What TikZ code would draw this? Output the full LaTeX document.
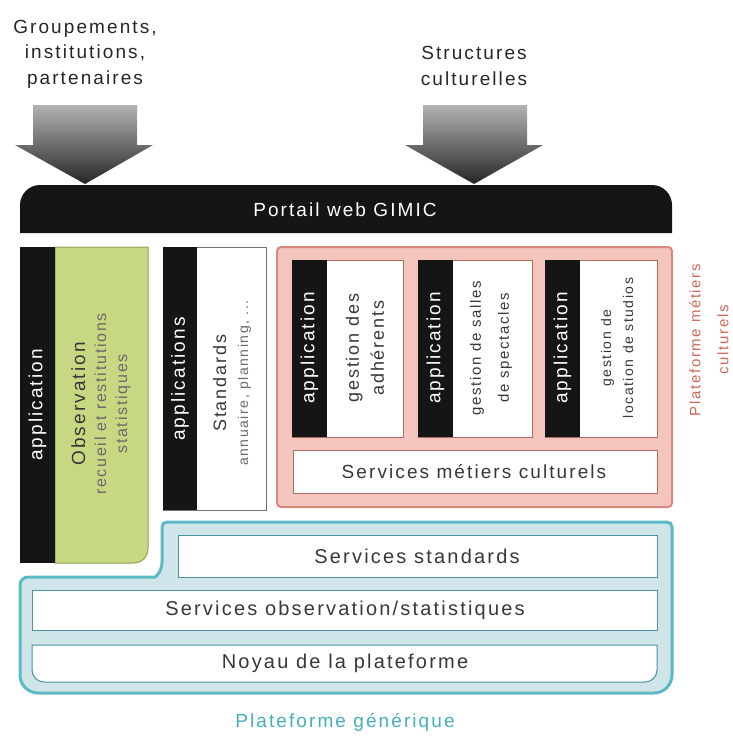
\documentclass[tikz,border=0pt]{standalone}
\usepackage{fontspec}
\setmainfont{Liberation Sans}[LetterSpace=11]
\definecolor{blk}{HTML}{151515}
\definecolor{txt}{HTML}{383838}
\definecolor{sub}{HTML}{6A6A6A}
\definecolor{cyanD}{HTML}{5DBAC5}
\definecolor{cyanF}{HTML}{CFE5EA}
\definecolor{cyanT}{HTML}{45AEBB}
\definecolor{pinkF}{HTML}{F3C5BC}
\definecolor{pinkD}{HTML}{D8877C}
\definecolor{redT}{HTML}{CF675B}
\definecolor{greenF}{HTML}{C6D982}
\definecolor{greenD}{HTML}{8FA35C}
\tikzset{
  lbl/.style={text=txt, inner sep=0pt, align=center, font=\fontsize{19}{22}\selectfont},
  applbl/.style={text=white, rotate=90, inner sep=0pt, font=\fontsize{19}{22}\selectfont},
  bigarrow/.style={top color=black!30, bottom color=black!85, draw=none},
  whitebox/.style={fill=white, line width=1pt},
}
\begin{document}
\begin{tikzpicture}[x=1pt,y=-1pt]
\useasboundingbox (0,0) rectangle (733,737);
% arrows
\path[bigarrow] (33,105) -- (137,105) -- (137,145) -- (153,145) -- (85,184) -- (15,145) -- (33,145) -- cycle;
\path[bigarrow] (423,105) -- (527,105) -- (527,145) -- (543,145) -- (474,184) -- (405,145) -- (423,145) -- cycle;
\node[lbl, text=black!85, font=\fontsize{19}{25.5}\selectfont] (grp) at (85,54) {Groupements,\\institutions,\\partenaires};
\node[lbl, text=black!85, font=\fontsize{19}{25.5}\selectfont] (str) at (474,66) {Structures\\culturelles};
% portal
\fill[blk] (20,233) -- (20,205) .. controls (20,194) and (29,185) .. (40,185) -- (652,185) .. controls (663,185) and (672,194) .. (672,205) -- (672,233) -- cycle;
\node[lbl, text=white] (portail) at (345,210) {Portail web GIMIC};
% generic platform
\path[fill=cyanF, draw=cyanD, line width=3pt] (162,545) [rounded corners=5] -- (162,522) -- (672,522) [rounded corners=18] -- (672,693) -- (20,693) [rounded corners=8] -- (20,577) -- (147,577) [sharp corners] .. controls (156,577) and (162,571) .. (162,562) -- cycle;
\draw[whitebox, draw=cyanD!80!black] (178,535) rectangle (657,577);
\node[lbl, font=\fontsize{20}{22}\selectfont] (ss) at (417,556) {Services standards};
\draw[whitebox, draw=cyanD!80!black] (32,590) rectangle (657,630);
\node[lbl, font=\fontsize{20}{22}\selectfont] (sos) at (345,610) {Services observation/statistiques};
\draw[whitebox, draw=cyanD!80!black] (32,645) -- (657,645) [rounded corners=12] -- (657,682) -- (32,682) [sharp corners] -- cycle;
\node[lbl, font=\fontsize{20}{22}\selectfont] (noyau) at (345,663) {Noyau de la plateforme};
\node[lbl, text=cyanT] (pg) at (345,722) {Plateforme générique};
% observation app
\path[fill=greenF, draw=greenD, line width=1pt] (55,247) -- (148,247) -- (148,548) .. controls (148,557) and (142,563) .. (133,563) -- (55,563) -- cycle;
\fill[blk] (20,247) rectangle (55,563);
\node[applbl] (app1) at (37.5,405) {application};
\node[lbl, rotate=90, font=\fontsize{16}{21}\selectfont, text=sub] (obs) at (101,404) {{\fontsize{19}{21}\selectfont\color{txt}Observation}\\recueil et restitutions\\statistiques};
% standards app
\draw[whitebox, draw=black!55] (163,247) rectangle (266,510);
\fill[blk] (163,247) rectangle (197,510);
\node[applbl] (app2) at (180,379) {applications};
\node[lbl, rotate=90, font=\fontsize{14}{22}\selectfont, text=sub] (std) at (232,383) {{\fontsize{18}{22}\selectfont\color{txt}Standards}\\annuaire, planning, ...};
% metier platform
\draw[fill=pinkF, draw=pinkD, line width=2pt, rounded corners=4] (277,247) rectangle (672,507);
\draw[whitebox, draw=pinkD!80!black, line width=0.8pt] (292,260) rectangle (403,437);
\fill[blk] (292,260) rectangle (327,437);
\node[applbl] (app3) at (309.5,348) {application};
\node[lbl, rotate=90, font=\fontsize{18}{25}\selectfont] (ga) at (365,348) {gestion des\\adhérents};
\draw[whitebox, draw=pinkD!80!black, line width=0.8pt] (418,260) rectangle (532,437);
\fill[blk] (418,260) rectangle (453,437);
\node[applbl] (app4) at (435.5,348) {application};
\node[lbl, rotate=90, font=\fontsize{15}{28}\selectfont] (gs) at (491,348) {gestion de salles\\de spectacles};
\draw[whitebox, draw=pinkD!80!black, line width=0.8pt] (545,260) rectangle (657,437);
\fill[blk] (545,260) rectangle (580,437);
\node[applbl] (app5) at (562.5,348) {application};
\node[lbl, rotate=90, font=\fontsize{14}{22}\selectfont] (gl) at (617,348) {gestion de\\location de studios};
\draw[whitebox, draw=pinkD!80!black, line width=0.8pt] (293,450) rectangle (657,493);
\node[lbl] (smc) at (474,472) {Services métiers culturels};
\node[lbl, rotate=90, text=redT, font=\fontsize{15}{28}\selectfont] (pmc) at (709,340) {Plateforme métiers\\culturels};
\end{tikzpicture}
\end{document}
